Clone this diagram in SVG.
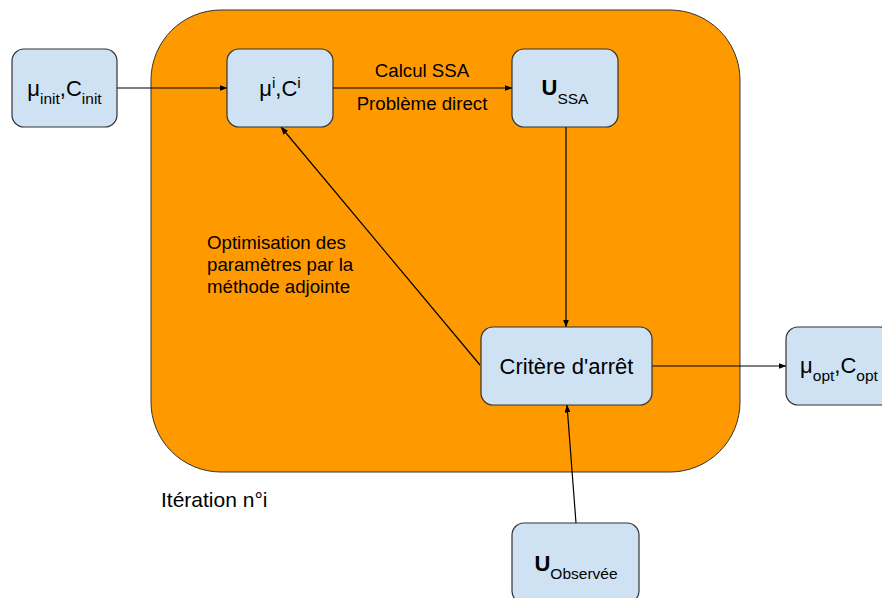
<svg xmlns="http://www.w3.org/2000/svg" width="882" height="598" viewBox="0 0 882 598">
<defs>
<marker id="ah" markerWidth="8" markerHeight="6" refX="7.5" refY="3" orient="auto" markerUnits="userSpaceOnUse">
<path d="M0,0 L8,3 L0,6 Z" fill="#000"/>
</marker>
<style>
text{font-family:"Liberation Sans",Arial,sans-serif;fill:#000}
.box{fill:#cfe2f3;stroke:#333;stroke-width:1.2}
.n{font-size:22px}
.sub{font-size:15.5px}
.lbl{font-size:18.67px}
.c{fill:none;stroke:#000;stroke-width:1.2;marker-end:url(#ah)}
</style>
</defs>
<rect width="882" height="598" fill="#fff"/>
<g id="iteration">
<rect x="151" y="10" width="589" height="462" rx="70" ry="70" fill="#ff9900" stroke="#333" stroke-width="1"/>
<text x="161" y="507" style="font-size:21px">Itération n°i</text>
</g>
<g id="connectors">
<line class="c" x1="117" y1="88" x2="227" y2="88"/>
<line class="c" x1="333" y1="88" x2="512" y2="88"/>
<line class="c" x1="566" y1="127" x2="566" y2="327"/>
<line class="c" x1="652" y1="366" x2="786" y2="366"/>
<line class="c" x1="576" y1="523" x2="567" y2="405"/>
<line class="c" x1="480" y1="365" x2="281" y2="127"/>
<text class="lbl" x="422" y="77" text-anchor="middle">Calcul SSA</text>
<text class="lbl" x="422" y="110" text-anchor="middle">Problème direct</text>
<text class="lbl" x="207" y="249">Optimisation des</text>
<text class="lbl" x="207" y="271">paramètres par la</text>
<text class="lbl" x="207" y="293">méthode adjointe</text>
</g>
<g id="mu-init">
<rect class="box" x="12" y="49" width="105" height="78" rx="12"/>
<text class="n" x="64.5" y="96" text-anchor="middle">μ<tspan class="sub" dy="8">init</tspan><tspan dy="-8">,C</tspan><tspan class="sub" dy="8">init</tspan></text>
</g>
<g id="mu-i">
<rect class="box" x="227" y="49" width="106" height="78" rx="12"/>
<text class="n" x="280" y="96" text-anchor="middle">μ<tspan class="sub" dy="-8">i</tspan><tspan dy="8">,C</tspan><tspan class="sub" dy="-8">i</tspan></text>
</g>
<g id="u-ssa">
<rect class="box" x="512" y="49" width="106" height="78" rx="12"/>
<text class="n" x="565" y="95" text-anchor="middle"><tspan font-weight="bold">U</tspan><tspan class="sub" dy="9">SSA</tspan></text>
</g>
<g id="critere">
<rect class="box" x="481" y="327" width="171" height="78" rx="12"/>
<text class="n" x="566.5" y="374" text-anchor="middle">Critère d'arrêt</text>
</g>
<g id="mu-opt">
<rect class="box" x="786" y="327" width="106" height="78" rx="12"/>
<text class="n" x="839" y="373" text-anchor="middle">μ<tspan class="sub" dy="8">opt</tspan><tspan dy="-8">,C</tspan><tspan class="sub" dy="8">opt</tspan></text>
</g>
<g id="u-obs">
<rect class="box" x="512" y="523" width="127" height="80" rx="12"/>
<text class="n" x="576" y="571" text-anchor="middle"><tspan font-weight="bold">U</tspan><tspan class="sub" dy="8">Observée</tspan></text>
</g>
</svg>
